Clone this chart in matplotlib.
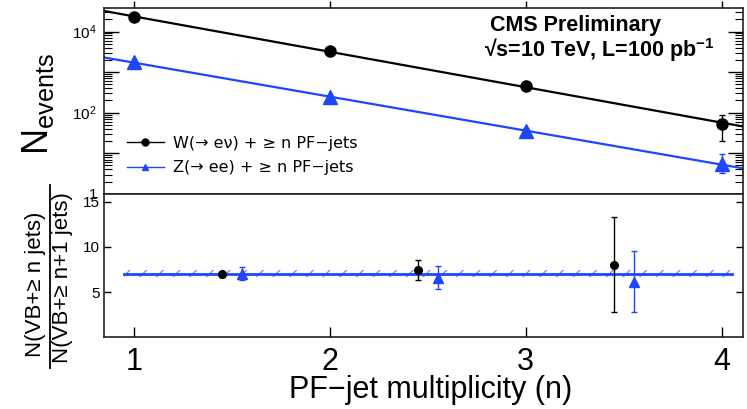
import numpy as np
import matplotlib
matplotlib.use("Agg")
from matplotlib import pyplot as plt
from matplotlib.lines import Line2D
from matplotlib.ticker import FixedLocator, FuncFormatter, LogLocator, NullFormatter

plt.rcParams['font.family'] = ['Liberation Sans', 'DejaVu Sans']
plt.rcParams['mathtext.fontset'] = 'custom'
plt.rcParams['mathtext.rm'] = 'Liberation Sans'
plt.rcParams['mathtext.bf'] = 'Liberation Sans:bold'
plt.rcParams['mathtext.it'] = 'Liberation Sans:italic'

# inclusive jet multiplicity
njets = np.array([1, 2, 3, 4])
w_events = np.array([22400., 3350., 447., 54.])
w_err_lo = np.array([150., 58., 21., 34.])
w_err_hi = np.array([150., 58., 21., 35.])
z_events = np.array([1780., 237., 35.5, 5.4])
z_err_lo = np.array([42., 15., 6., 2.2])
z_err_hi = np.array([42., 15., 6., 4.0])

# ratios n / n+1
ratio_x_w = np.array([1.45, 2.45, 3.45])
w_ratio = np.array([6.95, 7.45, 8.05])
w_ratio_err = np.array([0.3, 1.15, 5.25])
ratio_x_z = np.array([1.55, 2.55, 3.55])
z_ratio = np.array([7.05, 6.6, 6.15])
z_ratio_err = np.array([0.7, 1.3, 3.4])
ratio_fit = 7.05
ratio_fit_err = 0.43
ratio_band = (0.95, 4.05)

blue = '#1e46ff'
xlo, xhi = 0.847, 4.11

fig = plt.figure(figsize=(7.47, 4.09), dpi=100)
ax1 = fig.add_axes([0.139, 0.526, 0.856, 0.454])
ax2 = fig.add_axes([0.139, 0.176, 0.856, 0.350])

# exponential fits (straight lines in log)
xx = np.linspace(xlo, xhi, 50)
pw = np.polyfit(njets, np.log10(w_events), 1)
pz = np.polyfit(njets, np.log10(z_events), 1)
ax1.plot(xx, 10**np.polyval(pw, xx), color='k', lw=1.6)
ax1.plot(xx, 10**np.polyval(pz, xx), color=blue, lw=1.6)

ax1.errorbar(njets, w_events, yerr=[w_err_lo, w_err_hi], fmt='o', color='k',
             ms=8, elinewidth=1, capsize=2)
ax1.errorbar(njets, z_events, yerr=[z_err_lo, z_err_hi], fmt='^', color=blue,
             ms=10, elinewidth=1, capsize=2)

ax1.set_yscale('log')
ax1.set_xlim(xlo, xhi)
ax1.set_ylim(1, 3.76e4)
ax1.yaxis.set_major_locator(FixedLocator([1, 10, 100, 1e3, 1e4]))
labs = {1: '1', 100: r'$\mathrm{10^{2}}$', 10000: r'$\mathrm{10^{4}}$'}
ax1.yaxis.set_major_formatter(FuncFormatter(lambda v, p: labs.get(int(round(v)), '')))
ax1.yaxis.set_minor_locator(LogLocator(base=10, subs=np.arange(2, 10)))
ax1.yaxis.set_minor_formatter(NullFormatter())
ax1.tick_params(axis='y', which='major', direction='in', length=11, width=1,
                right=True, labelsize=11, pad=5)
ax1.tick_params(axis='y', which='minor', direction='in', length=6, width=0.8, right=True)
ax1.set_xticks(njets)
ax1.tick_params(axis='x', direction='out', length=5, width=1, top=True,
                labelbottom=False)

leg_handles = [
    Line2D([], [], color='k', marker='o', ms=5, lw=1),
    Line2D([], [], color=blue, marker='^', ms=5, lw=1),
]
ax1.legend(leg_handles, ['W(→ eν) + ≥ n PF−jets', 'Z(→ ee) + ≥ n PF−jets'],
           loc='center left', bbox_to_anchor=(0.036, 0.207), frameon=False,
           prop={'family': ['DejaVu Sans'], 'size': 11.5},
           handlelength=2.3, handletextpad=0.6, labelspacing=0.6,
           borderpad=0, borderaxespad=0)

# ratio panel
ax2.fill_between(ratio_band, ratio_fit - ratio_fit_err, ratio_fit + ratio_fit_err,
                 facecolor='none', edgecolor='#7090ff', hatch='//', lw=0)
ax2.plot(ratio_band, [ratio_fit, ratio_fit], color=blue, lw=2)
ax2.errorbar(ratio_x_w, w_ratio, yerr=w_ratio_err, fmt='o', color='k',
             ms=5.5, elinewidth=1, capsize=2)
ax2.errorbar(ratio_x_z, z_ratio, yerr=z_ratio_err, fmt='^', color=blue,
             ms=6.5, elinewidth=1, capsize=2)
ax2.set_xlim(xlo, xhi)
ax2.set_ylim(0, 15.9)
ax2.set_yticks([5, 10, 15])
ax2.set_xticks(njets)
ax2.tick_params(axis='y', direction='in', length=5, width=1, right=True,
                labelsize=11, pad=3)
ax2.tick_params(axis='x', direction='in', length=7, width=1, labelsize=22, pad=7)

for ax in (ax1, ax2):
    for s in ax.spines.values():
        s.set_linewidth(1.2)
        s.set_color('#222222')

fig.text(431 / 747, 1 - 390 / 409, 'PF−jet multiplicity (n)', fontsize=22,
         ha='center', va='center')

fig.text(38 / 747, 1 - 104 / 409, r'N$_{\mathrm{events}}$', fontsize=26,
         rotation=90, ha='center', va='center')

# ratio axis title as a stacked fraction
fig.text(36 / 747, 1 - 284 / 409, 'N(VB+≥ n jets)', fontsize=16,
         rotation=90, ha='center', va='center')
fig.text(63 / 747, 1 - 278 / 409, 'N(VB+≥ n+1 jets)', fontsize=16,
         rotation=90, ha='center', va='center')
fig.add_artist(Line2D([50 / 747, 50 / 747], [1 - 185 / 409, 1 - 368 / 409],
                      color='k', lw=1.3))

fig.text(490 / 747, 1 - 26 / 409, 'CMS Preliminary', fontsize=15.5,
         fontweight='bold', ha='left', va='center')
fig.text(484 / 747, 1 - 50 / 409, r'√s=10 TeV, L=100 pb$^{\mathbf{-1}}$',
         fontsize=15.5, fontweight='bold', ha='left', va='center')

fig.savefig('out.png', dpi=100)
